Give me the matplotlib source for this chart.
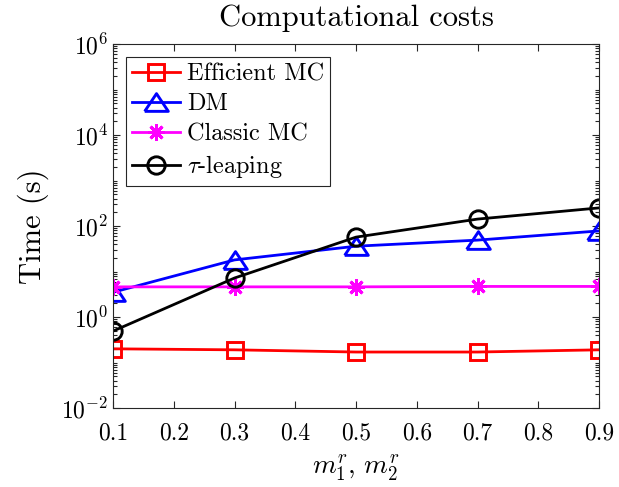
"""Computational cost comparison of the simulation methods (log scale)."""

import matplotlib

matplotlib.use("Agg")

import matplotlib.pyplot as plt
from matplotlib.ticker import NullFormatter, FixedLocator

M_R = [0.1, 0.3, 0.5, 0.7, 0.9]
EFFICIENT_MC = [0.20, 0.19, 0.17, 0.17, 0.19]
DM = [3.5, 18.0, 36.0, 49.0, 78.0]
CLASSIC_MC = [4.6, 4.6, 4.6, 4.7, 4.7]
TAU_LEAPING = [0.49, 7.2, 57.0, 142.0, 250.0]

X_TICKS = [0.1, 0.2, 0.3, 0.4, 0.5, 0.6, 0.7, 0.8, 0.9]
Y_MAJOR = [1e-2, 1e0, 1e2, 1e4, 1e6]

# MATLAB-like wide triangle and 8-spoke asterisk
TRIANGLE = [(-1, -0.75), (1, -0.75), (0, 0.75), (-1, -0.75)]
ASTERISK = (8, 2, 0)

plt.rcParams.update(
    {
        "font.family": "serif",
        "font.serif": ["cmr10", "DejaVu Serif"],
        "mathtext.fontset": "cm",
        "axes.formatter.use_mathtext": True,
        "axes.unicode_minus": False,
    }
)

fig = plt.figure(figsize=(6.19, 4.87), dpi=100)
ax = fig.add_axes([0.1826, 0.1622, 0.7851, 0.7474])

line_kw = dict(linewidth=2.0, markerfacecolor="none", markeredgewidth=2.1)
ax.plot(M_R, EFFICIENT_MC, "-", marker="s", markersize=11, color="#ff0000",
        label="Efficient MC", **line_kw)
ax.plot(M_R, DM, "-", marker=TRIANGLE, markersize=17, color="#0000ff",
        label="DM", **line_kw)
ax.plot(M_R, CLASSIC_MC, "-", marker=ASTERISK, markersize=12, color="#ff00ff",
        label="Classic MC", **line_kw)
ax.plot(M_R, TAU_LEAPING, "-", marker="o", markersize=12.5, color="black",
        label=r"$\tau$-leaping", **line_kw)

ax.set_yscale("log")
ax.set_xlim(0.1, 0.9)
ax.set_ylim(1e-2, 1e6)
ax.set_xticks(X_TICKS)
ax.set_xticklabels([f"{t:.1f}" for t in X_TICKS])
ax.yaxis.set_major_locator(FixedLocator(Y_MAJOR))
minor = [m * 10.0 ** k for k in range(-2, 6) for m in range(1, 10)]
minor = [v for v in minor if v not in Y_MAJOR]
ax.yaxis.set_minor_locator(FixedLocator(minor))
ax.yaxis.set_minor_formatter(NullFormatter())
ax.tick_params(which="both", direction="in", top=True, right=True, width=0.8,
               labelsize=17, color="#262626")
ax.tick_params(which="major", length=5)
ax.tick_params(which="minor", length=3)
ax.tick_params(axis="x", pad=10)
for spine in ax.spines.values():
    spine.set_linewidth(0.8)
    spine.set_color("#262626")

ax.set_xlabel(r"$m_1^r,\, m_2^r$", fontsize=19.5, labelpad=6)
ax.set_ylabel("Time (s)", fontsize=22, labelpad=9)
ax.set_title("Computational costs", fontsize=22, pad=13)

leg = ax.legend(loc="upper left", fontsize=17.5, handlelength=1.95, handletextpad=0.3,
                borderpad=0.25, labelspacing=0.32, borderaxespad=0.55,
                fancybox=False, framealpha=1, edgecolor="#262626")
leg.get_frame().set_linewidth(0.8)

fig.savefig("out.png", dpi=100)
